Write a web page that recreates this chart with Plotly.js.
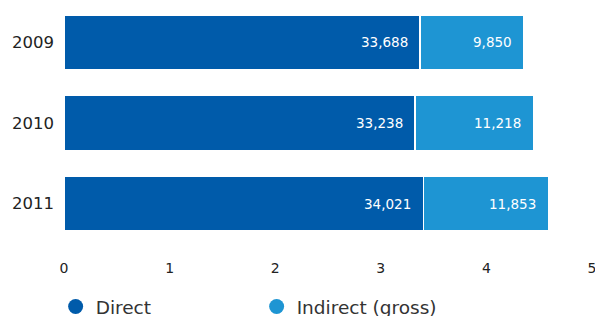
<!DOCTYPE html>
<html><head><meta charset="utf-8">
<script src="https://cdn.plot.ly/plotly-3.0.1.min.js"></script>
<style>html,body{margin:0;padding:0;background:#fff}#chart{width:595px;height:316px}</style>
</head><body><div id="chart"></div>
<script>
const years = ['2009', '2010', '2011'];
const direct = [33688, 33238, 34021];
const indirect = [9850, 11218, 11853];
const seriesNames = ['Direct', 'Indirect (gross)'];
const colors = ['#005BAA', '#1E95D3'];
const xTicks = [0, 1, 2, 3, 4, 5];

const FONT = 'DejaVu Sans, sans-serif';
const scale = v => v / 10000;
const fmt = v => v.toLocaleString('en-US');

const traces = [
  {type:'bar', orientation:'h', y:years, x:direct.map(scale), name:seriesNames[0],
   marker:{color:colors[0], line:{color:'#fff', width:1.5}}, showlegend:false, hoverinfo:'skip'},
  {type:'bar', orientation:'h', y:years, x:indirect.map(scale), name:seriesNames[1],
   marker:{color:colors[1], line:{color:'#fff', width:1.5}}, showlegend:false, hoverinfo:'skip'},
  {type:'scatter', mode:'markers', x:[null], y:[null], name:seriesNames[0],
   marker:{color:colors[0], size:15, symbol:'circle'}},
  {type:'scatter', mode:'markers', x:[null], y:[null], name:seriesNames[1],
   marker:{color:colors[1], size:15, symbol:'circle'}}
];

const annotations = [];
years.forEach((yr, i) => {
  annotations.push({x:scale(direct[i]), y:i, xref:'x', yref:'y', text:fmt(direct[i]),
    showarrow:false, xanchor:'right', xshift:-10, font:{color:'#fff', size:13.5, family:FONT}});
  annotations.push({x:scale(direct[i]+indirect[i]), y:i, xref:'x', yref:'y', text:fmt(indirect[i]),
    showarrow:false, xanchor:'right', xshift:-10, font:{color:'#fff', size:13.5, family:FONT}});
});

const layout = {
  width:595, height:316,
  margin:{l:64, r:3, t:2, b:72},
  paper_bgcolor:'#fff', plot_bgcolor:'#fff',
  barmode:'stack', bargap:0.32,
  font:{family:FONT, color:'#222'},
  xaxis:{range:[0,5], tickvals:xTicks, ticktext:xTicks.map(String), showgrid:false, zeroline:false,
    showline:false, ticks:'', ticklabelstandoff:14, ticklabeloverflow:'allow',
    tickfont:{size:14, color:'#222'}, fixedrange:true},
  yaxis:{type:'category', categoryorder:'array', categoryarray:years, range:[2.5, -0.5], autorange:false,
    showgrid:false, zeroline:false,
    showline:false, ticks:'', ticklabelstandoff:9, tickfont:{size:16.5, color:'#222'}, fixedrange:true},
  showlegend:true,
  legend:{orientation:'h', traceorder:'normal', xref:'container', x:0.0935, xanchor:'left', yref:'container', y:0.0285, yanchor:'middle',
    bgcolor:'rgba(0,0,0,0)', entrywidth:156, entrywidthmode:'pixels', font:{size:18.5, color:'#333', family:FONT},
    itemclick:false, itemdoubleclick:false},
  annotations:annotations
};

Plotly.newPlot('chart', traces, layout, {displayModeBar:false, staticPlot:true});
</script></body></html>
